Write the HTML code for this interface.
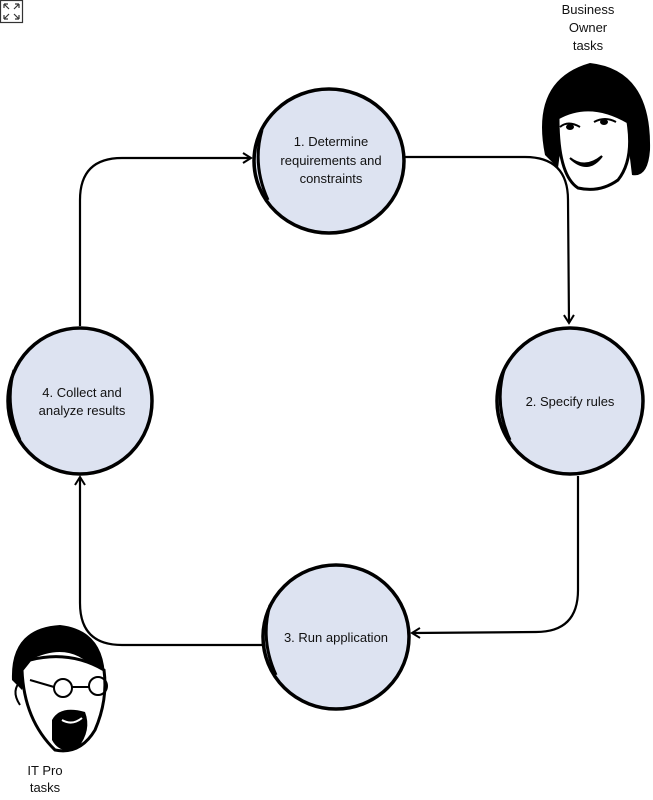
<!DOCTYPE html>
<html><head><meta charset="utf-8"><style>
html,body{margin:0;padding:0;background:#fff;width:653px;height:800px;overflow:hidden}
svg{display:block}
text{font-family:"Liberation Sans",sans-serif;font-size:13px;fill:#111}
</style></head><body>
<svg width="653" height="800" viewBox="0 0 653 800" xmlns="http://www.w3.org/2000/svg">
<defs><marker id="a" markerWidth="12" markerHeight="12" refX="9" refY="6" orient="auto" markerUnits="userSpaceOnUse"><path d="M1,1 L9,6 L1,11" fill="none" stroke="#000" stroke-width="2"/></marker></defs>
<g stroke="#333" stroke-width="1.2" fill="none"><rect x="0.5" y="0.5" width="22" height="22" fill="#fff"/><path d="M4,4 L9,9 M4,4 h4 M4,4 v4 M19,4 L14,9 M19,4 h-4 M19,4 v4 M4,19 L9,14 M4,19 h4 M4,19 v-4 M19,19 L14,14 M19,19 h-4 M19,19 v-4"/></g>
<g fill="none" stroke="#000" stroke-width="2.2">
<path d="M405,157 L525,157 Q568,157 568,200 L569,323" marker-end="url(#a)"/>
<path d="M578,476 L578,590 Q578,632 536,632 L412,633" marker-end="url(#a)"/>
<path d="M262,645 L122,645 Q80,645 80,603 L80,477" marker-end="url(#a)"/>
<path d="M80,326 L80,200 Q80,158 122,158 L251,158" marker-end="url(#a)"/>
</g>
<g fill="#dde3f1" stroke="#000" stroke-width="3.5">
<ellipse cx="329" cy="161" rx="75" ry="72"/>
<ellipse cx="570" cy="401" rx="73" ry="73"/>
<ellipse cx="336" cy="637" rx="73" ry="72"/>
<ellipse cx="80" cy="401" rx="72" ry="73"/>
</g>
<g fill="none" stroke="#000" stroke-width="3">
<path d="M262,130 Q252,165 268,200"/><path d="M504,370 Q494,405 510,440"/><path d="M270,605 Q260,640 276,675"/><path d="M14,370 Q4,405 20,440"/>
</g>
<text x="331" y="146" text-anchor="middle">1. Determine</text>
<text x="331" y="165" text-anchor="middle">requirements and</text>
<text x="331" y="183" text-anchor="middle">constraints</text>
<text x="570" y="406" text-anchor="middle">2. Specify rules</text>
<text x="336" y="642" text-anchor="middle">3. Run application</text>
<text x="82" y="397" text-anchor="middle">4. Collect and</text>
<text x="82" y="415" text-anchor="middle">analyze results</text>
<text x="588" y="14" text-anchor="middle">Business</text>
<text x="588" y="32" text-anchor="middle">Owner</text>
<text x="588" y="50" text-anchor="middle">tasks</text>
<text x="45" y="775" text-anchor="middle">IT Pro</text>
<text x="45" y="792" text-anchor="middle">tasks</text>
<!-- woman -->
<path d="M545,155 Q530,80 590,63 Q652,70 650,150 Q648,178 632,175 L626,125 Q600,105 565,115 L558,168 Z" fill="#000"/>
<path d="M558,118 Q590,100 628,122 Q634,160 618,180 Q600,193 578,188 Q558,175 558,118 Z" fill="#fff" stroke="#000" stroke-width="3"/>
<path d="M560,127 Q568,120 580,127 M594,122 Q605,116 616,122" fill="none" stroke="#000" stroke-width="2"/>
<ellipse cx="570" cy="127" rx="4" ry="3" fill="#000"/><ellipse cx="604" cy="122" rx="4" ry="3" fill="#000"/>
<path d="M570,158 Q585,170 602,156 Q588,175 570,158" fill="#000" stroke="#000" stroke-width="2"/>
<!-- man -->
<path d="M12,680 Q10,628 60,625 Q105,630 105,680 L95,670 Q70,640 30,660 L22,690 Z" fill="#000"/>
<path d="M22,670 Q24,720 55,750 Q80,755 95,730 Q108,700 104,670 Q70,650 30,660 Z" fill="#fff" stroke="#000" stroke-width="3"/>
<path d="M52,720 Q60,705 85,712 Q92,730 78,748 Q60,755 52,740 Z" fill="#000"/>
<path d="M62,720 Q72,726 82,718" fill="none" stroke="#fff" stroke-width="2"/>
<g fill="none" stroke="#000" stroke-width="2"><circle cx="63" cy="688" r="9"/><circle cx="98" cy="686" r="9"/><path d="M30,680 L54,687 M72,687 L89,687"/><path d="M22,680 Q10,690 20,705"/></g>
</svg>
</body></html>
